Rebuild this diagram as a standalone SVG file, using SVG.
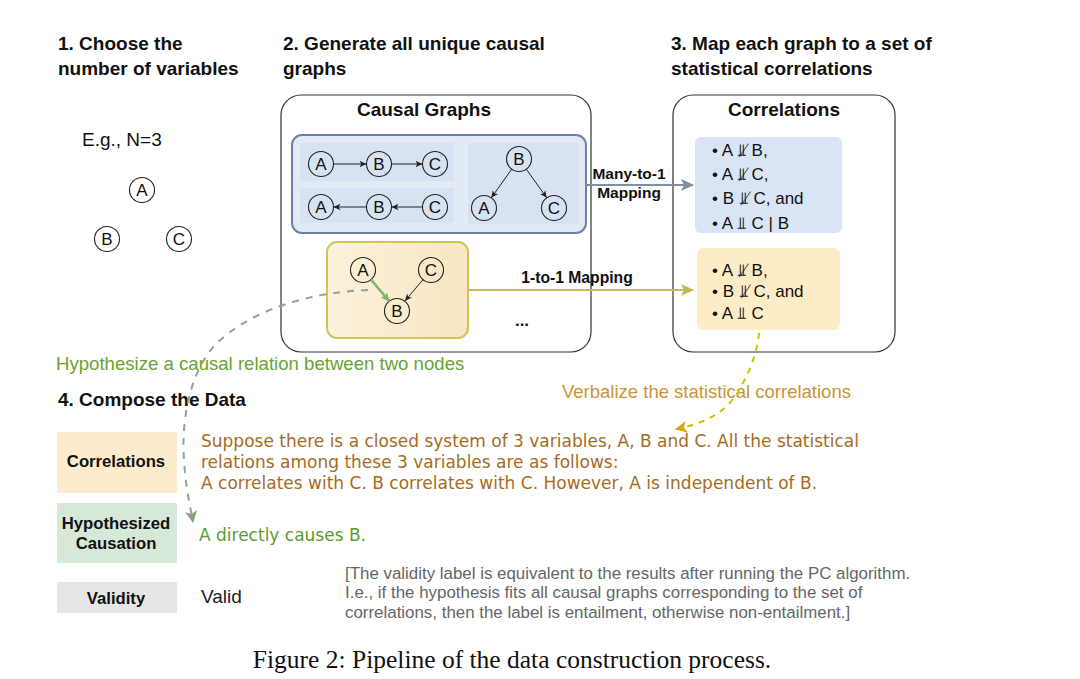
<svg xmlns="http://www.w3.org/2000/svg" width="1080" height="679" viewBox="0 0 1080 679">
<defs>
<style>
.h{font-family:"Liberation Sans",Arial,sans-serif;font-weight:bold;font-size:19px;fill:#111}
.t{font-family:"Liberation Sans",Arial,sans-serif;font-size:17px;fill:#111}
.n{fill:none;stroke:#222;stroke-width:1.1}
.nl{font-family:"Liberation Sans",Arial,sans-serif;font-size:17px;fill:#111;text-anchor:middle}
.e{stroke:#222;stroke-width:1;fill:none;marker-end:url(#ah)}
.v{font-family:"DejaVu Sans",Verdana,sans-serif;font-size:17px}
.c{font-family:"Liberation Sans",Arial,sans-serif;font-weight:bold;font-size:16.7px;fill:#111;text-anchor:middle}
</style>
<marker id="ah" markerUnits="userSpaceOnUse" markerWidth="8" markerHeight="8" refX="7" refY="4" orient="auto"><path d="M0,0.8 L7,4 L0,7.2 L1.8,4 Z" fill="#222"/></marker>
<marker id="ag" markerUnits="userSpaceOnUse" markerWidth="10" markerHeight="10" refX="8" refY="5" orient="auto"><path d="M0,1 L9,5 L0,9 L2,5 Z" fill="#82b366"/></marker>
<marker id="ab" markerUnits="userSpaceOnUse" markerWidth="14" markerHeight="14" refX="12" refY="7" orient="auto"><path d="M0,1 L13,7 L0,13 L3,7 Z" fill="#7f8fa6"/></marker>
<marker id="ay" markerUnits="userSpaceOnUse" markerWidth="14" markerHeight="14" refX="12" refY="7" orient="auto"><path d="M0,1 L13,7 L0,13 L3,7 Z" fill="#c2b95a"/></marker>
<marker id="ao" markerUnits="userSpaceOnUse" markerWidth="14" markerHeight="14" refX="11" refY="7" orient="auto"><path d="M0,1 L12,7 L0,13 L3,7 Z" fill="#d6a416"/></marker>
<marker id="agr" markerUnits="userSpaceOnUse" markerWidth="14" markerHeight="14" refX="11" refY="7" orient="auto"><path d="M0,1 L12,7 L0,13 L3,7 Z" fill="#8aa27e"/></marker>
<linearGradient id="yg" x1="0" y1="0" x2="1" y2="0"><stop offset="0" stop-color="#fbf1da"/><stop offset="1" stop-color="#f8e6c2"/></linearGradient>
</defs>

<g id="step1">
<text class="h" x="58" y="50">1. Choose the</text>
<text class="h" x="58" y="75">number of variables</text>
<text class="t" x="82" y="146" style="font-size:19px">E.g., N=3</text>
<circle class="n" cx="142" cy="190" r="12.5"/><text class="nl" x="142" y="196">A</text>
<circle class="n" cx="107" cy="239" r="12.5"/><text class="nl" x="107" y="245">B</text>
<circle class="n" cx="179" cy="239" r="12.5"/><text class="nl" x="179" y="245">C</text>
</g>

<g id="step2">
<text class="h" x="283" y="50">2. Generate all unique causal</text>
<text class="h" x="283" y="75">graphs</text>
<rect x="281" y="95" width="310" height="257" rx="20" fill="#fff" stroke="#333" stroke-width="1.2"/>
<text class="h" x="424" y="116" text-anchor="middle">Causal Graphs</text>
</g>

<g id="blue-graphs">
<rect x="292" y="135" width="294" height="98" rx="10" fill="#e2eaf6" stroke="#6c7fa6" stroke-width="2"/>
<rect x="300" y="143" width="154" height="38" fill="#d7e2f3"/>
<rect x="300" y="188" width="154" height="35" fill="#d7e2f3"/>
<rect x="468" y="143" width="110" height="81" fill="#d7e2f3"/>
<circle class="n" cx="321" cy="164" r="12.5"/><text class="nl" x="321" y="170">A</text>
<circle class="n" cx="379" cy="164" r="12.5"/><text class="nl" x="379" y="170">B</text>
<circle class="n" cx="435" cy="164" r="12.5"/><text class="nl" x="435" y="170">C</text>
<circle class="n" cx="321" cy="207" r="12.5"/><text class="nl" x="321" y="213">A</text>
<circle class="n" cx="379" cy="207" r="12.5"/><text class="nl" x="379" y="213">B</text>
<circle class="n" cx="435" cy="207" r="12.5"/><text class="nl" x="435" y="213">C</text>
<circle class="n" cx="519" cy="159" r="12.5"/><text class="nl" x="519" y="165">B</text>
<circle class="n" cx="484" cy="208" r="12.5"/><text class="nl" x="484" y="214">A</text>
<circle class="n" cx="554" cy="208" r="12.5"/><text class="nl" x="554" y="214">C</text>
</g>

<g id="yellow-graph">
<rect x="327" y="242" width="141" height="96" rx="10" fill="url(#yg)" stroke="#cbc55e" stroke-width="2"/>
<circle class="n" cx="363" cy="270" r="12.5"/><text class="nl" x="363" y="276">A</text>
<circle class="n" cx="431" cy="270" r="12.5"/><text class="nl" x="431" y="276">C</text>
<circle class="n" cx="397" cy="311" r="12.5"/><text class="nl" x="397" y="317">B</text>
<text class="t" x="522" y="326" text-anchor="middle" style="font-weight:bold">...</text>
</g>

<g id="step3">
<text class="h" x="671" y="50">3. Map each graph to a set of</text>
<text class="h" x="671" y="75">statistical correlations</text>
<rect x="673" y="95" width="222" height="257" rx="20" fill="#fff" stroke="#333" stroke-width="1.2"/>
<text class="h" x="784" y="116" text-anchor="middle">Correlations</text>
</g>

<g id="corr-blue">
<rect x="695" y="137" width="147" height="96" rx="6" fill="#d9e4f4"/>
<g class="t">
<text x="712" y="156">• A ⫫̸ B,</text>
<text x="712" y="180">• A ⫫̸ C,</text>
<text x="712" y="204">• B ⫫̸ C, and</text>
<text x="712" y="229">• A ⫫ C | B</text>
</g>
</g>

<g id="corr-yellow">
<rect x="697" y="248" width="143" height="82" rx="6" fill="#fdecc6"/>
<g class="t">
<text x="712" y="276">• A ⫫̸ B,</text>
<text x="712" y="297">• B ⫫̸ C, and</text>
<text x="712" y="319">• A ⫫ C</text>
</g>
</g>

<g id="step4">
<text class="h" x="58" y="406">4. Compose the Data</text>
<rect x="57" y="432" width="120" height="61" fill="#fdeccb"/>
<text class="c" x="116" y="467">Correlations</text>
<rect x="57" y="503" width="120" height="60" fill="#d6e8d8"/>
<text class="c" x="116" y="529">Hypothesized</text>
<text class="c" x="116" y="549">Causation</text>
<rect x="57" y="582" width="120" height="31" fill="#e6e6e6"/>
<text class="c" x="116" y="604">Validity</text>
</g>

<g id="data-texts">
<g class="v" fill="#a56c1e">
<text x="201" y="447">Suppose there is a closed system of 3 variables, A, B and C. All the statistical</text>
<text x="201" y="468">relations among these 3 variables are as follows:</text>
<text x="201" y="489">A correlates with C. B correlates with C. However, A is independent of B.</text>
</g>
<text class="v" x="199" y="541" fill="#5d9a32">A directly causes B.</text>
<text class="t" x="201" y="603" style="font-size:19px;fill:#222">Valid</text>
<g class="t" style="font-size:16.9px;fill:#666">
<text x="345" y="579">[The validity label is equivalent to the results after running the PC algorithm.</text>
<text x="345" y="598">I.e., if the hypothesis fits all causal graphs corresponding to the set of</text>
<text x="345" y="618">correlations, then the label is entailment, otherwise non-entailment.]</text>
</g>
</g>

<g id="annotations">
<text x="56" y="370" style="font-family:'Liberation Sans',Arial,sans-serif;font-size:18.6px;fill:#6aa234">Hypothesize a causal relation between two nodes</text>
<text x="562" y="398" style="font-family:'Liberation Sans',Arial,sans-serif;font-size:18.5px;fill:#c8943a">Verbalize the statistical correlations</text>
<text x="512" y="668" text-anchor="middle" style="font-family:'Liberation Serif','Times New Roman',serif;font-size:25.5px;fill:#111">Figure 2: Pipeline of the data construction process.</text>
</g>

<g id="connectors">
<line class="e" x1="333.5" y1="164" x2="366.5" y2="164"/>
<line class="e" x1="391.5" y1="164" x2="422.5" y2="164"/>
<line class="e" x1="422.5" y1="207" x2="391.5" y2="207"/>
<line class="e" x1="366.5" y1="207" x2="333.5" y2="207"/>
<line class="e" x1="511.7" y1="169.2" x2="491.3" y2="197.8"/>
<line class="e" x1="526.3" y1="169.2" x2="546.7" y2="197.8"/>
<line class="e" x1="423" y1="279.6" x2="405" y2="300.9"/>
<line x1="371" y1="279.6" x2="389" y2="300.9" stroke="#82b366" stroke-width="2.5" marker-end="url(#ag)"/>
<line x1="586" y1="185" x2="693" y2="185" stroke="#7f8fa6" stroke-width="2" marker-end="url(#ab)"/>
<text class="h" x="629" y="179" text-anchor="middle" style="font-size:15.5px">Many-to-1</text>
<text class="h" x="629" y="198" text-anchor="middle" style="font-size:15.5px">Mapping</text>
<line x1="468" y1="290" x2="693" y2="290" stroke="#c2b95a" stroke-width="2" marker-end="url(#ay)"/>
<text class="h" x="577" y="283" text-anchor="middle" style="font-size:15.7px">1-to-1 Mapping</text>
<path d="M759,333 C757,355 748,375 738,392 C728,408 712,422 676,429" fill="none" stroke="#c8c400" stroke-width="2" stroke-dasharray="6,6" marker-end="url(#ao)"/>
<path d="M368,290 C310,292 250,310 215,345 C190,372 181,420 184,460 C186,490 190,505 193,522" fill="none" stroke="#8fa68a" stroke-width="2" stroke-dasharray="7,7" marker-end="url(#agr)"/>
</g>
</svg>
